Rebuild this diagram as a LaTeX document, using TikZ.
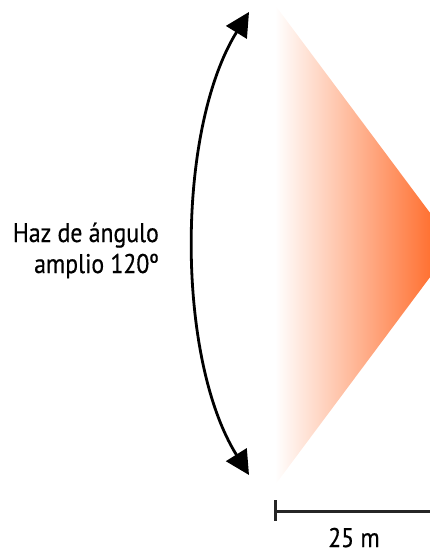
\documentclass[tikz,border=0pt]{standalone}
\usepackage{fontspec}
\setmainfont[FakeStretch=0.88,FakeBold=0.5]{PT Sans}
\usetikzlibrary{arrows.meta}
\definecolor{beamorange}{RGB}{255,92,20}
\definecolor{beammid}{RGB}{255,150,100}
\tikzset{
  lbl/.style={inner sep=0pt, font=\fontsize{27}{31}\selectfont},
  arc/.style={line width=2.8pt, {Triangle[length=24pt,width=24pt]}-{Triangle[length=24pt,width=24pt]}},
  bar/.style={line width=3pt, color=black!85}
}
\begin{document}
\begin{tikzpicture}[x=1pt,y=-1pt]
\useasboundingbox (0,0) rectangle (430,556);
\begin{scope}
\clip (0,0) rectangle (430,556);
\shade[left color=white, middle color=beammid, right color=beamorange, shading=axis] (275,5) -- (454,245) -- (275,485) -- cycle;
\end{scope}
\coordinate (atop) at (249,12);
\coordinate (abot) at (249,475);
\draw[arc] (atop) .. controls (176,130) and (176,358) .. (abot);
\node[lbl, anchor=base east] (l1) at (159,242) {Haz de ángulo};
\node[lbl, anchor=base east] (l2) at (159,273) {amplio 120º};
\coordinate (b0) at (275,511);
\coordinate (b1) at (430,511);
\coordinate (t0) at (275,500);
\coordinate (t1) at (275,521);
\draw[bar] (t0) -- (t1);
\draw[bar] (b0) -- (b1);
\node[lbl, anchor=base] (dist) at (354,547) {25 m};
\end{tikzpicture}
\end{document}
